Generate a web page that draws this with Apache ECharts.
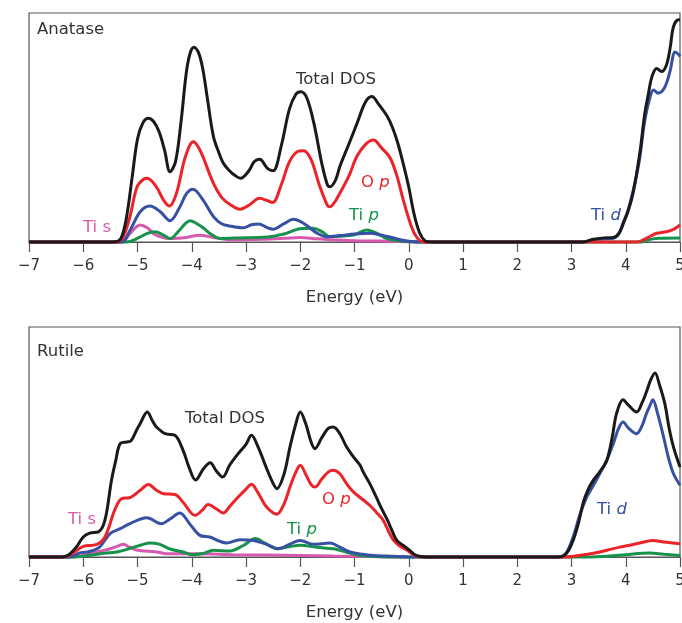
<!DOCTYPE html>
<html><head><meta charset="utf-8">
<script src="https://cdn.jsdelivr.net/npm/echarts@6/dist/echarts.min.js"></script>
<style>html,body{margin:0;padding:0;background:#fff}#c{width:682px;height:623px}</style>
</head><body><div id="c"></div>
<script>
// Energy (eV) ticks
const xTicks = [-7,-6,-5,-4,-3,-2,-1,0,1,2,3,4,5];

// Anatase PDOS (arbitrary units), [energy, dos]
const anataseTotal = [[-7,0],[-5.5,0],[-5.35,0.5],[-5.28,3],[-5.2,11],[-5.1,28],[-5.0,45],[-4.9,52],[-4.8,54],[-4.7,52.5],[-4.6,48],[-4.5,40],[-4.4,30.7],[-4.3,35],[-4.2,52],[-4.1,74],[-4.03,82.4],[-3.96,85],[-3.88,83],[-3.8,76],[-3.72,64],[-3.6,46],[-3.5,39],[-3.42,34.5],[-3.3,31],[-3.2,29],[-3.1,27.8],[-2.95,31],[-2.85,35],[-2.75,36.1],[-2.6,32],[-2.5,31.1],[-2.35,42],[-2.2,58],[-2.08,64.5],[-1.99,65.6],[-1.88,63],[-1.75,52],[-1.6,34],[-1.5,25],[-1.45,24.1],[-1.35,27],[-1.27,33],[-1.1,43],[-0.95,52],[-0.8,61],[-0.68,63.5],[-0.55,60],[-0.4,55],[-0.3,50],[-0.2,43],[-0.1,34],[0.0,24],[0.1,12],[0.2,4],[0.3,0.5],[0.4,0],[3.2,0],[3.4,1.2],[3.6,1.8],[3.77,2],[3.88,4],[3.97,9],[4.05,14],[4.14,22],[4.26,39],[4.35,56],[4.42,65],[4.48,72],[4.57,75.8],[4.66,74.4],[4.75,77.3],[4.82,85],[4.88,94],[4.97,97],[5.0,97]];
const anataseOp = [[-7,0],[-5.4,0],[-5.28,1.5],[-5.14,11],[-5.01,24],[-4.89,27.4],[-4.82,27.8],[-4.65,24],[-4.52,18.3],[-4.41,15.7],[-4.28,21.4],[-4.12,37],[-3.97,43.8],[-3.88,41.5],[-3.79,37],[-3.6,25.6],[-3.45,19.5],[-3.3,16.5],[-3.11,14.3],[-2.95,16],[-2.75,19.1],[-2.6,18],[-2.51,17.2],[-2.35,25],[-2.2,35],[-2.05,39.5],[-1.94,39.9],[-1.8,36],[-1.65,25],[-1.5,16],[-1.45,15.4],[-1.35,18],[-1.27,21.3],[-1.1,29],[-0.96,37.2],[-0.8,42.5],[-0.65,44.5],[-0.5,41],[-0.35,37],[-0.22,29],[-0.1,18.3],[0.05,6.7],[0.15,2],[0.27,0],[4.2,0],[4.32,0.9],[4.45,2.5],[4.57,3.8],[4.75,4.5],[4.88,5.5],[5.0,7.4]];
const anataseTid = [[-7,0],[-5.3,0],[-5.14,5],[-4.95,13.2],[-4.77,15.7],[-4.58,13.2],[-4.4,9.3],[-4.22,15.3],[-4.1,21],[-3.98,23],[-3.79,18.3],[-3.6,11.1],[-3.45,8],[-3.3,7],[-3.05,6.2],[-2.9,7.5],[-2.77,7.9],[-2.6,6.2],[-2.5,5.6],[-2.3,8],[-2.13,9.9],[-2.0,9],[-1.85,6.7],[-1.7,4],[-1.51,2.3],[-1.27,2.8],[-1.0,3.5],[-0.71,3.8],[-0.5,3],[-0.35,2.2],[-0.15,1],[0,0.3],[0.2,0],[3.2,0],[3.4,0.9],[3.6,1.4],[3.77,1.6],[3.87,3.5],[3.95,8.2],[4.03,13],[4.11,19.8],[4.19,28],[4.26,37],[4.35,53],[4.45,63.5],[4.51,66.4],[4.6,65],[4.69,66.4],[4.76,70],[4.82,75],[4.91,83],[4.97,82],[5.0,81]];
const anataseTip = [[-7,0],[-5.2,0],[-4.95,2.2],[-4.82,3.8],[-4.68,4.5],[-4.52,3],[-4.4,1.5],[-4.25,4.5],[-4.12,8],[-4.03,9.3],[-3.92,8.2],[-3.79,6.2],[-3.65,3.5],[-3.48,1.5],[-3.2,1.8],[-2.6,2.2],[-2.3,3.5],[-2.0,5.8],[-1.76,6],[-1.6,4.5],[-1.45,2.3],[-1.27,2.5],[-1.0,3.2],[-0.78,5.2],[-0.6,4],[-0.4,1.5],[-0.2,0.5],[0.1,0],[4.3,0],[4.38,0.8],[4.6,1.6],[5.0,1.8]];
const anataseTis = [[-7,0],[-5.3,0],[-5.22,1.2],[-5.14,3.6],[-4.95,7.4],[-4.82,6.2],[-4.7,3.6],[-4.55,2],[-4.4,1.5],[-4.1,2],[-3.85,3],[-3.6,2],[-3.23,1],[-2.7,1.2],[-2.3,1.6],[-2.0,2],[-1.7,1.4],[-1.45,1],[-1.0,0.6],[-0.5,0.4],[0,0.1],[0.2,0]];

// Rutile PDOS (arbitrary units), [energy, dos]
const rutileTotal = [[-7,0],[-6.4,0],[-6.31,0.5],[-6.24,1.5],[-6.12,4.5],[-6.0,8.7],[-5.88,10.4],[-5.72,10.9],[-5.6,16],[-5.48,33.3],[-5.4,42],[-5.32,49.3],[-5.2,50],[-5.12,50.5],[-5.02,55],[-4.95,58],[-4.82,63],[-4.72,59],[-4.65,56.5],[-4.49,53.6],[-4.31,52.9],[-4.16,46.4],[-4.05,39],[-3.93,33.5],[-3.78,38.5],[-3.66,41],[-3.55,37.5],[-3.43,34.8],[-3.3,40],[-3.17,44.2],[-3.0,49],[-2.9,52.9],[-2.78,48],[-2.63,39.1],[-2.5,32],[-2.43,29.7],[-2.3,36],[-2.19,47.8],[-2.08,58],[-2.0,63],[-1.9,58],[-1.8,50],[-1.73,47.1],[-1.6,52],[-1.48,56],[-1.39,56.5],[-1.27,53.6],[-1.15,48],[-1.02,43.5],[-0.9,40],[-0.84,37],[-0.72,32],[-0.6,26.1],[-0.5,21],[-0.39,15.9],[-0.3,11],[-0.22,7.2],[-0.1,5],[0.02,2.9],[0.1,1.2],[0.2,0.3],[0.35,0],[2.75,0],[2.85,0.5],[2.95,3],[3.03,7.2],[3.12,14],[3.22,23.9],[3.3,29],[3.4,33.3],[3.52,37],[3.65,42],[3.75,52],[3.83,62.3],[3.95,68.4],[4.05,66],[4.2,63],[4.3,67],[4.38,71.7],[4.46,77],[4.54,80],[4.62,75],[4.72,66.7],[4.8,56],[4.88,47.8],[5.0,39.1]];
const rutileOp = [[-7,0],[-6.4,0],[-6.24,0.9],[-6.0,4.6],[-5.75,5.5],[-5.6,8.7],[-5.41,21],[-5.29,25.4],[-5.14,25.8],[-4.95,29],[-4.8,31.5],[-4.65,29],[-4.52,27.5],[-4.31,27.2],[-4.16,23.8],[-3.94,18.1],[-3.8,20.5],[-3.7,22.8],[-3.55,21],[-3.42,19.1],[-3.3,22],[-3.17,25.4],[-3.0,29.5],[-2.9,31.6],[-2.78,28],[-2.62,21.7],[-2.43,18.6],[-2.3,23],[-2.19,30.4],[-2.08,37],[-2.0,39.9],[-1.9,36],[-1.8,31.5],[-1.73,30.4],[-1.6,34],[-1.48,37],[-1.39,37.7],[-1.27,36.2],[-1.15,32],[-1.02,28.3],[-0.85,25],[-0.72,22.5],[-0.6,19.5],[-0.47,15.9],[-0.38,11.5],[-0.28,7.2],[-0.15,4.5],[-0.03,2.9],[0.05,1.5],[0.15,0.3],[0.3,0],[2.9,0],[3.1,0.5],[3.3,1.2],[3.52,2.2],[3.7,3.2],[3.89,4.3],[4.05,5],[4.26,6.1],[4.5,7.2],[4.7,6.5],[5.0,5.8]];
const rutileTid = [[-7,0],[-6.3,0],[-6.18,0.5],[-6.06,1.8],[-5.88,2.4],[-5.7,4.3],[-5.51,10.1],[-5.32,12.3],[-5.14,14.5],[-4.83,17.1],[-4.56,14.5],[-4.4,16.5],[-4.22,19.1],[-4.04,14.5],[-3.85,9.4],[-3.67,8.7],[-3.5,7],[-3.36,6.1],[-3.11,7.5],[-2.86,7.2],[-2.62,5.5],[-2.4,3.6],[-2.2,5.5],[-2.0,7.2],[-1.76,5.5],[-1.45,6.1],[-1.27,4.3],[-1.08,2.2],[-0.85,1.2],[-0.65,0.7],[-0.3,0.3],[0,0],[2.8,0],[2.9,1.5],[3.03,8.7],[3.15,18],[3.28,26],[3.4,31],[3.52,36.2],[3.65,42],[3.77,49.3],[3.87,56],[3.95,58.7],[4.05,56],[4.2,53.6],[4.3,57],[4.38,62.3],[4.45,66],[4.5,68.4],[4.58,63],[4.69,52.9],[4.8,42],[4.88,36.2],[5.0,31.2]];
const rutileTip = [[-7,0],[-6.2,0],[-6.0,0.3],[-5.69,1.4],[-5.38,2.2],[-5.1,4],[-4.92,5.3],[-4.77,6.1],[-4.6,5.6],[-4.4,3.5],[-4.16,2.2],[-4.0,1],[-3.79,1.5],[-3.6,2.9],[-3.3,2.6],[-3.05,5],[-2.83,8],[-2.65,6],[-2.43,3.6],[-2.2,4.5],[-2.0,5.1],[-1.7,4.2],[-1.39,3.6],[-1.27,2.9],[-0.9,0.7],[-0.5,0.1],[-0.3,0],[3.3,0],[3.7,0.4],[4.0,1],[4.44,1.7],[4.7,1.2],[5.0,0.7]];
const rutileTis = [[-7,0],[-6.2,0],[-6.0,0.7],[-5.69,2.5],[-5.5,3.6],[-5.38,4.6],[-5.26,5.5],[-5.15,4.3],[-5.02,3],[-4.65,2.2],[-4.46,1.4],[-3.85,1.4],[-3.23,1],[-2.0,0.7],[-1.39,0.4],[-0.8,0.2],[0,0]];

const panelNames = ['Anatase','Rutile'];
const axisName = 'Energy (eV)';

const C = {tot:'#1a1a1a', op:'#ec2329', tid:'#3650a3', tip:'#17924a', tis:'#d65aae'};
const FONT = '"DejaVu Sans", sans-serif';
const FS = 16.5;

function xAxis(gi){
  return {
    type:'value', gridIndex:gi, min:-7, max:5, interval:1,
    name: axisName, nameLocation:'middle', nameGap:47,
    nameTextStyle:{fontFamily:FONT, fontSize:FS, color:'#333'},
    axisLine:{show:true, onZero:false, lineStyle:{color:'#555', width:1.2}},
    axisTick:{show:true, inside:false, length:10, lineStyle:{color:'#555', width:1.2}},
    axisLabel:{fontFamily:FONT, fontSize:15, color:'#333', margin:17,
      formatter: v => String(v).replace('-', '\u2212')},
    splitLine:{show:false}
  };
}
function yAxis(gi){
  return {type:'value', gridIndex:gi, min:0, max:100, show:false};
}
function line(data, color, gi, w){
  return {type:'line', xAxisIndex:gi, yAxisIndex:gi, data, showSymbol:false, symbol:'none',
    smooth:0.35, clip:false, lineStyle:{color, width:w||3}, z:2};
}
function txt(x,y,text,color){
  return {type:'text', x, y, style:{text, fill:color, font:FS+'px '+FONT, textVerticalAlign:'middle',
    rich:{i:{fontStyle:'italic', fontSize:FS, fontFamily:FONT, fill:color}}}, z:10};
}

const chart = echarts.init(document.getElementById('c'), null, {renderer:'canvas'});
chart.setOption({
  animation:false,
  backgroundColor:'#fff',
  grid:[
    {left:29, right:2, top:13, height:229, show:true, borderColor:'#555', borderWidth:1.2, backgroundColor:'transparent', containLabel:false, outerBoundsMode:'none'},
    {left:29, right:2, top:327, height:230, show:true, borderColor:'#555', borderWidth:1.2, backgroundColor:'transparent', containLabel:false, outerBoundsMode:'none'}
  ],
  xAxis:[xAxis(0), xAxis(1)],
  yAxis:[yAxis(0), yAxis(1)],
  series:[
    line(anataseTis, C.tis, 0), line(anataseTip, C.tip, 0), line(anataseTid, C.tid, 0), line(anataseOp, C.op, 0), line(anataseTotal, C.tot, 0),
    line(rutileTis, C.tis, 1), line(rutileTip, C.tip, 1), line(rutileTid, C.tid, 1), line(rutileOp, C.op, 1), line(rutileTotal, C.tot, 1)
  ],
  graphic:[
    txt(37,30,panelNames[0],'#333'),
    txt(296,80,'Total DOS','#333'),
    txt(361,183,'O {i|p}',C.op),
    txt(349,216,'Ti {i|p}',C.tip),
    txt(83,228,'Ti s',C.tis),
    txt(591,216,'Ti {i|d}',C.tid),
    txt(37,352,panelNames[1],'#333'),
    txt(185,419,'Total DOS','#333'),
    txt(322,500,'O {i|p}',C.op),
    txt(287,530,'Ti {i|p}',C.tip),
    txt(68,520,'Ti s',C.tis),
    txt(597,510,'Ti {i|d}',C.tid)
  ]
});
</script></body></html>
